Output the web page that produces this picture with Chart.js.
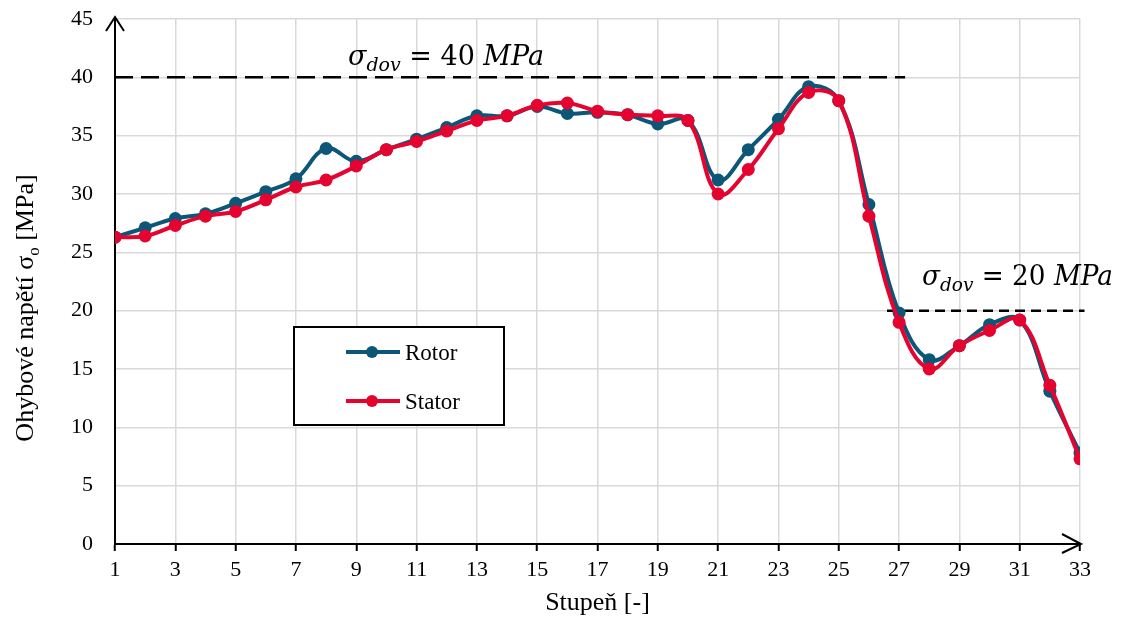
<!DOCTYPE html>
<html>
<head>
<meta charset="utf-8">
<title>Ohybové napětí - rotor / stator</title>
<script src="https://cdn.jsdelivr.net/npm/chart.js@4.4.1/dist/chart.umd.min.js"></script>
<style>
    html, body { margin: 0; padding: 0; background: #fff; }
</style>
</head>
<body>
<canvas id="chart-graph-stress" width="1124" height="619"></canvas>
<script>
// stupne turbiny
var stages = [1, 2, 3, 4, 5, 6, 7, 8, 9, 10, 11, 12, 13, 14, 15, 16, 17,
    18, 19, 20, 21, 22, 23, 24, 25, 26, 27, 28, 29, 30, 31, 32, 33];

// ohybove napeti [MPa]
var rotorStress = [26.3, 27.1, 27.9, 28.3, 29.2, 30.2, 31.3, 33.9, 32.8, 33.8, 34.7, 35.7,
    36.7, 36.7, 37.5, 36.9, 37.0, 36.8, 36.0, 36.3, 31.2, 33.8, 36.4, 39.2, 38.0,
    29.1, 19.8, 15.8, 17.0, 18.8, 19.2, 13.1, 7.8];
var statorStress = [26.3, 26.4, 27.3, 28.1, 28.5, 29.5, 30.6, 31.2, 32.4, 33.8, 34.5, 35.4,
    36.3, 36.7, 37.6, 37.8, 37.1, 36.8, 36.7, 36.3, 30.0, 32.1, 35.6, 38.7, 38.0,
    28.1, 19.0, 15.0, 17.0, 18.3, 19.2, 13.6, 7.3];

var xTickLabels = [1, 3, 5, 7, 9, 11, 13, 15, 17, 19, 21, 23, 25, 27, 29, 31, 33];
var yTickLabels = [0, 5, 10, 15, 20, 25, 30, 35, 40, 45];

// dovolene napeti
var limitHighValue = 40;
var limitHighRange = [1, 27.2];
var limitLowValue = 20;
var limitLowRange = [26.6, 33.15];

var rotorColor = '#0c5677';
var statorColor = '#e5032f';
var serif = '"Liberation Serif", "Times New Roman", serif';

function toPoints(xs, ys) {
    return xs.map(function (x, i) { return { x: x, y: ys[i] }; });
}

function lineFrom(range, value) {
    return [{ x: range[0], y: value }, { x: range[1], y: value }];
}

// popisek sigma_dov = xx MPa
function drawSigmaLabel(ctx, x, baseline, value, targetWidth) {
    var parts = [
        { t: '\u03C3', f: 'italic 27px "DejaVu Serif"', dy: 0 },
        { t: 'dov', f: 'italic 19px "DejaVu Serif"', dy: 6 },
        { t: ' = ' + value + ' ', f: '27px "DejaVu Serif"', dy: 0 },
        { t: 'MPa', f: 'italic 27px "DejaVu Serif"', dy: 0 }
    ];
    var total = 0;
    parts.forEach(function (p) { ctx.font = p.f; p.w = ctx.measureText(p.t).width; total += p.w; });
    ctx.save();
    ctx.translate(x, baseline);
    ctx.scale(targetWidth / total, 1);
    ctx.fillStyle = '#000';
    ctx.textBaseline = 'alphabetic';
    ctx.textAlign = 'left';
    var cx = 0;
    parts.forEach(function (p) { ctx.font = p.f; ctx.fillText(p.t, cx, p.dy); cx += p.w; });
    ctx.restore();
}

var decorPlugin = {
    id: 'decor',
    afterDraw: function (chart) {
        var ctx = chart.ctx;
        var area = chart.chartArea;
        var ys = chart.scales.y;

        // sipky na osach
        ctx.save();
        ctx.strokeStyle = '#000';
        ctx.lineWidth = 2;
        ctx.beginPath();
        ctx.moveTo(area.left, area.top);
        ctx.lineTo(area.left, area.top - 2);
        ctx.moveTo(area.left - 9, area.top + 12);
        ctx.lineTo(area.left, area.top - 2);
        ctx.lineTo(area.left + 9, area.top + 12);
        ctx.moveTo(area.right - 18, area.bottom - 10);
        ctx.lineTo(area.right + 1, area.bottom);
        ctx.lineTo(area.right - 18, area.bottom + 9);
        ctx.stroke();
        ctx.restore();

        // legenda
        ctx.save();
        ctx.fillStyle = '#fff';
        ctx.fillRect(294, 327, 210, 98);
        ctx.strokeStyle = '#000';
        ctx.lineWidth = 2;
        ctx.strokeRect(294, 327, 210, 98);
        chart.data.datasets.slice(0, 2).forEach(function (ds, i) {
            var y = i === 0 ? 352 : 401;
            ctx.strokeStyle = ds.borderColor;
            ctx.lineWidth = 4;
            ctx.beginPath();
            ctx.moveTo(346, y);
            ctx.lineTo(400, y);
            ctx.stroke();
            ctx.fillStyle = ds.borderColor;
            ctx.beginPath();
            ctx.arc(372, y, 6, 0, Math.PI * 2);
            ctx.fill();
            ctx.fillStyle = '#000';
            ctx.font = '23px ' + serif;
            ctx.textBaseline = 'alphabetic';
            ctx.fillText(ds.label, 405, y + 8);
        });
        ctx.restore();

        // dovolene napeti
        drawSigmaLabel(ctx, 348, ys.getPixelForValue(limitHighValue) - 12, limitHighValue, 196);
        drawSigmaLabel(ctx, 922, ys.getPixelForValue(limitLowValue) - 26, limitLowValue, 191);

        // popisky os
        ctx.save();
        ctx.fillStyle = '#000';
        ctx.textBaseline = 'alphabetic';
        ctx.font = '26px ' + serif;
        ctx.textAlign = 'center';
        ctx.fillText('Stupeň [-]', (area.left + area.right) / 2, 610);

        var main = 'Ohybové napětí σ', sub = 'o', tail = ' [MPa]';
        ctx.font = '26px ' + serif;
        var w1 = ctx.measureText(main).width, w3 = ctx.measureText(tail).width;
        ctx.font = '17px ' + serif;
        var w2 = ctx.measureText(sub).width;
        var total = w1 + w2 + w3;
        ctx.translate(33, 308);
        ctx.rotate(-Math.PI / 2);
        ctx.textAlign = 'left';
        ctx.font = '26px ' + serif;
        ctx.fillText(main, -total / 2, 0);
        ctx.font = '17px ' + serif;
        ctx.fillText(sub, -total / 2 + w1, 6);
        ctx.font = '26px ' + serif;
        ctx.fillText(tail, -total / 2 + w1 + w2, 0);
        ctx.restore();
    }
};

new Chart(document.getElementById('chart-graph-stress').getContext('2d'), {
    type: 'line',
    data: {
        datasets: [{
            label: 'Rotor',
            data: toPoints(stages, rotorStress),
            borderColor: rotorColor,
            backgroundColor: rotorColor,
            borderWidth: 4,
            pointRadius: 6.5,
            pointBorderWidth: 0,
            tension: 0.4,
            order: 2
        }, {
            label: 'Stator',
            data: toPoints(stages, statorStress),
            borderColor: statorColor,
            backgroundColor: statorColor,
            borderWidth: 4,
            pointRadius: 6.5,
            pointBorderWidth: 0,
            tension: 0.4,
            order: 1
        }, {
            label: 'limit40',
            data: lineFrom(limitHighRange, limitHighValue),
            borderColor: '#000',
            borderWidth: 2.5,
            borderDash: [18, 8],
            pointRadius: 0,
            order: 3
        }, {
            label: 'limit20',
            data: lineFrom(limitLowRange, limitLowValue),
            borderColor: '#000',
            borderWidth: 2.5,
            borderDash: [10, 6],
            pointRadius: 0,
            clip: false,
            order: 3
        }]
    },
    options: {
        responsive: false,
        animation: false,
        layout: { padding: { top: 19, right: 44, left: 0, bottom: 0 } },
        plugins: {
            legend: { display: false },
            tooltip: { enabled: false }
        },
        scales: {
            x: {
                type: 'linear',
                min: 1,
                max: 33,
                afterBuildTicks: function (scale) {
                    scale.ticks = xTickLabels.map(function (v) { return { value: v }; });
                },
                afterFit: function (scale) { scale.height = 75; },
                grid: { color: '#d9d9d9', lineWidth: 1.5, tickColor: '#000', tickLength: 7, tickWidth: 2 },
                border: { color: '#000', width: 2 },
                ticks: { color: '#000', font: { family: serif, size: 22 }, padding: 6, maxRotation: 0, autoSkip: false }
            },
            y: {
                min: 0,
                max: 45,
                afterBuildTicks: function (scale) {
                    scale.ticks = yTickLabels.map(function (v) { return { value: v }; });
                },
                afterFit: function (scale) {
                    scale.width = 115;
                    // tick padding would otherwise push the plot area down
                    scale.paddingTop = 0;
                    scale.paddingBottom = 0;
                },
                grid: { color: '#d9d9d9', lineWidth: 1.5, drawTicks: false },
                border: { color: '#000', width: 2 },
                ticks: { color: '#000', font: { family: serif, size: 22 }, padding: 22 }
            }
        }
    },
    plugins: [decorPlugin]
});
</script>
</body>
</html>
